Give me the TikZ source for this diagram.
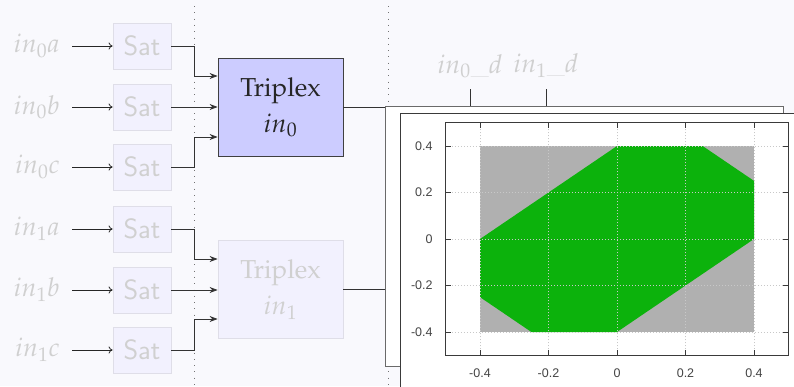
\documentclass[tikz,border=0pt]{standalone}
\usepackage{fontspec}
\usepackage{mathpazo}
\newfontfamily\plotfont{Liberation Sans}
\usetikzlibrary{arrows.meta}
\definecolor{bgc}{HTML}{F9F9FD}
\definecolor{lblc}{HTML}{D0D0D0}
\definecolor{satfill}{HTML}{F2F1FE}
\definecolor{satborder}{HTML}{DFDEE8}
\definecolor{trifill}{HTML}{CCCCFF}
\definecolor{triborder}{HTML}{404040}
\definecolor{plotgreen}{HTML}{0CB20C}
\definecolor{plotgray}{HTML}{B0B0B0}
\definecolor{framec}{HTML}{6A6A6A}
\definecolor{innerc}{HTML}{3A3A3A}
\definecolor{ticktext}{HTML}{444444}
\definecolor{gridc}{HTML}{C8C8C8}
\begin{document}
\begin{tikzpicture}[x=1pt,y=-1pt,
  lab/.style={text=lblc, inner xsep=12pt, inner ysep=0pt, anchor=east, font=\fontsize{26}{30}\selectfont},
  satbox/.style={draw=satborder, fill=satfill, text=lblc, minimum width=58pt, minimum height=46pt, inner sep=0pt, line width=0.8pt, font=\sffamily\fontsize{28}{30}\selectfont},
  tribox/.style={minimum width=125pt, minimum height=98pt, inner sep=0pt, align=center, line width=0.8pt, font=\fontsize{26}{36}\selectfont},
  inarr/.style={-{To[length=4pt,width=7pt]}, line width=0.8pt, draw=black!85},
  triarr/.style={-{Stealth[length=8pt,width=6pt]}, line width=0.8pt, draw=black!80},
  conn/.style={line width=0.8pt, draw=black!80},
  sepline/.style={draw=black!55, line width=0.8pt, dash pattern=on 1pt off 5.3pt},
  dlab/.style={text=lblc, inner sep=0pt, font=\fontsize{26}{30}\selectfont},
  gridline/.style={draw=gridc, line width=0.6pt, dash pattern=on 1pt off 2pt},
  tickmark/.style={draw=innerc, line width=0.7pt},
  ticklab/.style={text=ticktext, inner sep=0pt, font=\plotfont\fontsize{12.5}{14}\selectfont}
]
\useasboundingbox[fill=bgc] (0,0) rectangle (794,386);

% separator dotted lines
\draw[sepline] (194,6) -- (194,386);
\draw[sepline] (388,6) -- (388,386);

% input labels
\node[lab] (la0) at (72,46) {$in_0a$};
\node[lab] (lb0) at (72,107) {$in_0b$};
\node[lab] (lc0) at (72,167) {$in_0c$};
\node[lab] (la1) at (72,229) {$in_1a$};
\node[lab] (lb1) at (72,290) {$in_1b$};
\node[lab] (lc1) at (72,350) {$in_1c$};

% Sat boxes
\node[satbox] (sa0) at (142,46) {Sat};
\node[satbox] (sb0) at (142,107) {Sat};
\node[satbox] (sc0) at (142,167) {Sat};
\node[satbox] (sa1) at (142,229) {Sat};
\node[satbox] (sb1) at (142,290) {Sat};
\node[satbox] (sc1) at (142,350) {Sat};

\foreach \a/\b in {la0/sa0,lb0/sb0,lc0/sc0,la1/sa1,lb1/sb1,lc1/sc1}
  \draw[inarr] (\a.east) -- (\b.west);

% Triplex boxes
\node[tribox, draw=triborder, fill=trifill, text=black!85] (t0) at (280.5,107) {$\mathrm{Triplex}$\\$in_0$};
\node[tribox, draw=satborder, fill=satfill, text=lblc] (t1) at (280.5,289.5) {$\mathrm{Triplex}$\\$in_1$};

\coordinate (bus) at (194,0);
\coordinate (t0a) at ([yshift=31pt]t0.west);
\coordinate (t0c) at ([yshift=-30pt]t0.west);
\coordinate (t1a) at ([yshift=30.5pt]t1.west);
\coordinate (t1c) at ([yshift=-29.5pt]t1.west);

\draw[triarr] (sa0.east) -- (sa0.east -| bus) |- (t0a);
\draw[triarr] (sb0.east) -- (t0.west);
\draw[triarr] (sc0.east) -- (sc0.east -| bus) |- (t0c);
\draw[triarr] (sa1.east) -- (sa1.east -| bus) |- (t1a);
\draw[triarr] (sb1.east) -- (sb1.east -| t1.west);
\draw[triarr] (sc1.east) -- (sc1.east -| bus) |- (t1c);

% frames
\node[draw=framec, fill=white, line width=1pt, minimum width=398pt, minimum height=260pt, inner sep=0pt, anchor=north west] (back) at (385,106) {};
\node[draw=innerc, fill=white, line width=1.2pt, minimum width=420pt, minimum height=290pt, inner sep=0pt, anchor=north west] (front) at (400,113) {};

\draw[conn] (t0.east) -- (t0.east -| back.west);
\draw[conn] (t1.east) -- (t1.east -| back.west);

% d inputs
\node[dlab] (d0) at (470,66) {$in_0\_d$};
\node[dlab] (d1) at (546,66) {$in_1\_d$};
\coordinate (d0t) at (470,89);
\coordinate (d1t) at (546,89);
\draw[conn] (d0t) -- (d0t |- back.north);
\draw[conn] (d1t) -- (d1t |- back.north);

% plot
\begin{scope}[shift={(617,239)}, x=342.5pt, y=232.5pt]
  \fill[plotgray] (-0.4,-0.4) rectangle (0.4,0.4);
  \fill[plotgreen] (-0.4,0) -- (0,0.4) -- (0.25,0.4) -- (0.4,0.25) -- (0.4,0) -- (0,-0.4) -- (-0.25,-0.4) -- (-0.4,-0.25) -- cycle;
  \foreach \v [count=\i] in {-0.4,-0.2,0,0.2,0.4} {
    \draw[gridline] (\v,-0.5) -- (\v,0.5);
    \draw[gridline] (-0.5,\v) -- (0.5,\v);
    \draw[tickmark] (\v,-0.5) -- ++(0,5pt);
    \draw[tickmark] (\v,0.5) -- ++(0,-5pt);
    \draw[tickmark] (-0.5,\v) -- ++(5pt,0);
    \draw[tickmark] (0.5,\v) -- ++(-5pt,0);
    \node[ticklab] (xl\i) at ([yshift=-18pt]\v,-0.5) {\v};
    \node[ticklab, anchor=east] (yl\i) at ([xshift=-13pt]-0.5,\v) {\v};
  }
  \draw[draw=innerc, line width=0.9pt] (-0.5,-0.5) rectangle (0.5,0.5);
\end{scope}
\end{tikzpicture}
\end{document}
